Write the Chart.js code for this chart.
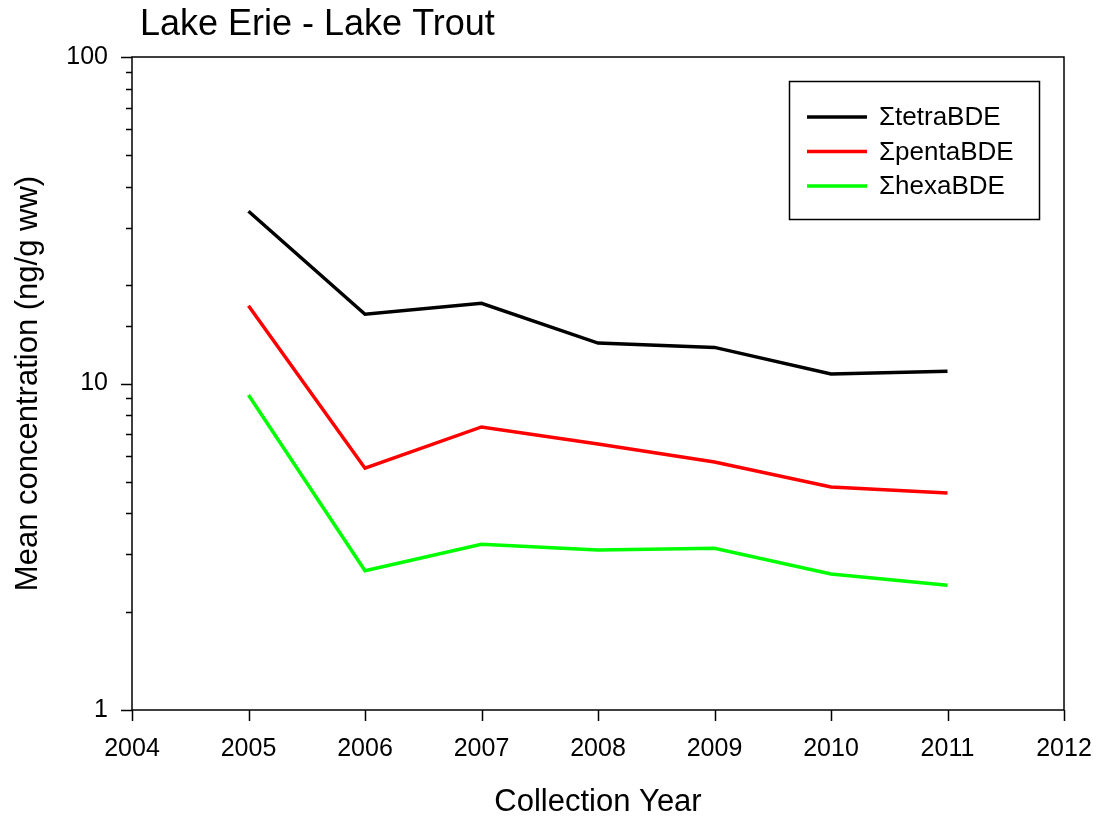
<!DOCTYPE html>
<html>
<head>
<meta charset="utf-8">
<script src="https://cdn.jsdelivr.net/npm/chart.js@4"></script>
<style>
  html, body { margin: 0; padding: 0; background: #fff; }
  #wrap { width: 1096px; height: 816px; }
</style>
</head>
<body>
<div id="wrap"><canvas id="grafico"></canvas></div>
<script>
// datos
const years = [2005, 2006, 2007, 2008, 2009, 2010, 2011];
const tetraBDE = [33.7, 16.3, 17.6, 13.3, 12.9, 10.7, 10.9];
const pentaBDE = [17.3, 5.5, 7.36, 6.53, 5.75, 4.82, 4.62];
const hexaBDE = [9.22, 2.67, 3.22, 3.09, 3.13, 2.61, 2.41];
const seriesNames = ['\u03A3tetraBDE', '\u03A3pentaBDE', '\u03A3hexaBDE'];
const seriesColors = ['#000000', '#ff0000', '#00ff00'];
const yLabels = [1, 10, 100];

const FONT = '"Liberation Sans", Arial, sans-serif';

function pts(vals) {
  return years.map((y, i) => ({ x: y, y: vals[i] }));
}

// marcas de ejes, marco y leyenda
const decoPlugin = {
  id: 'deco',
  afterDraw(chart) {
    const c = chart.ctx;
    const a = chart.chartArea;
    const xs = chart.scales.x, ys = chart.scales.y;
    c.save();
    c.strokeStyle = '#000';
    c.lineWidth = 1.5;
    c.strokeRect(a.left, a.top, a.right - a.left, a.bottom - a.top);
    c.beginPath();
    ys.ticks.forEach(t => {
      const py = Math.round(ys.getPixelForValue(t.value)) + 0.5;
      const major = yLabels.includes(t.value);
      c.moveTo(a.left, py);
      c.lineTo(a.left - (major ? 11 : 6), py);
    });
    xs.ticks.forEach(t => {
      const px = Math.round(xs.getPixelForValue(t.value)) + 0.5;
      c.moveTo(px, a.bottom);
      c.lineTo(px, a.bottom + 11);
    });
    c.stroke();

    // titulo
    c.fillStyle = '#000';
    c.font = '36px ' + FONT;
    c.textBaseline = 'middle';
    c.textAlign = 'left';
    c.fillText('Lake Erie - Lake Trout', 140, 25);

    // leyenda
    const lx = 789, ly = 81, lw = 250, lh = 138;
    c.lineWidth = 1.5;
    c.strokeRect(lx + 0.5, ly + 0.5, lw, lh);
    c.font = '26px ' + FONT;
    chart.data.datasets.forEach((ds, i) => {
      const ry = 117 + i * 34.5;
      c.strokeStyle = ds.borderColor;
      c.lineWidth = 3.5;
      c.beginPath();
      c.moveTo(807, ry);
      c.lineTo(867, ry);
      c.stroke();
      c.fillText(ds.label, 879, ry + 1);
    });
    c.restore();
  }
};

new Chart(document.getElementById('grafico'), {
  type: 'line',
  data: {
    datasets: [
      { label: seriesNames[0], data: pts(tetraBDE), borderColor: seriesColors[0] },
      { label: seriesNames[1], data: pts(pentaBDE), borderColor: seriesColors[1] },
      { label: seriesNames[2], data: pts(hexaBDE), borderColor: seriesColors[2] }
    ].map(d => Object.assign(d, { borderWidth: 3.5, pointRadius: 0, tension: 0, fill: false }))
  },
  options: {
    responsive: true,
    maintainAspectRatio: false,
    animation: false,
    layout: { padding: { top: 57, right: 32, left: 0, bottom: 0 } },
    plugins: {
      legend: { display: false },
      tooltip: { enabled: false }
    },
    scales: {
      x: {
        type: 'linear',
        min: 2004,
        max: 2012,
        grid: { display: false },
        border: { display: false },
        ticks: {
          stepSize: 1,
          padding: 16,
          color: '#000',
          font: { size: 25, family: FONT },
          callback: v => String(v)
        },
        title: {
          display: true,
          text: 'Collection Year',
          color: '#000',
          font: { size: 31, family: FONT },
          padding: { top: 10, bottom: -5 }
        },
        afterFit: s => { s.height = 106; s.paddingLeft = 0; s.paddingRight = 0; }
      },
      y: {
        type: 'logarithmic',
        min: 1,
        max: 100,
        grid: { display: false },
        border: { display: false },
        ticks: {
          autoSkip: false,
          padding: 16,
          color: '#000',
          font: { size: 25, family: FONT },
          callback: v => yLabels.includes(v) ? String(v) : ''
        },
        title: {
          display: true,
          text: 'Mean concentration (ng/g ww)',
          color: '#000',
          font: { size: 31, family: FONT },
          padding: { top: 10, bottom: 0 }
        },
        afterFit: s => { s.width = 132; s.paddingTop = 0; s.paddingBottom = 0; }
      }
    }
  },
  plugins: [decoPlugin]
});
</script>
</body>
</html>
